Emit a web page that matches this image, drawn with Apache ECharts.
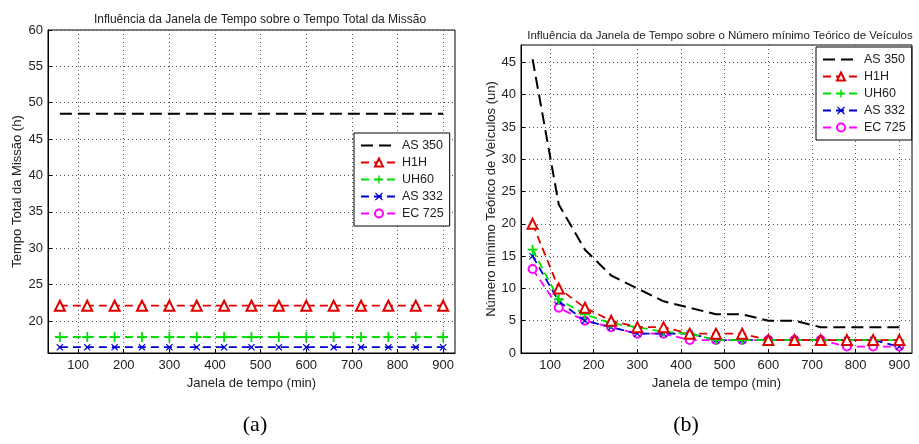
<!DOCTYPE html>
<html>
<head>
<meta charset="utf-8">
<script src="https://cdn.jsdelivr.net/npm/echarts@6/dist/echarts.min.js"></script>
<style>
  html, body { margin: 0; padding: 0; background: #fff; }
  #chart { width: 919px; height: 444px; }
</style>
</head>
<body>
<div id="chart"></div>
<script>
// janela de tempo (min)
const janela = [60, 120, 180, 240, 300, 360, 420, 480, 540, 600, 660, 720, 780, 840, 900];
const xTicks = [100, 200, 300, 400, 500, 600, 700, 800, 900];
const yTicksA = [20, 25, 30, 35, 40, 45, 50, 55, 60];
const yTicksB = [0, 5, 10, 15, 20, 25, 30, 35, 40, 45];
const nomes = ['AS 350', 'H1H', 'UH60', 'AS 332', 'EC 725'];

// (a) tempo total da missao (h) - EC 725 nao aparece no grafico (a)
const tempoAS350 = [48.5, 48.5, 48.5, 48.5, 48.5, 48.5, 48.5, 48.5, 48.5, 48.5, 48.5, 48.5, 48.5, 48.5, 48.5];
const tempoH1H = [22.1, 22.1, 22.1, 22.1, 22.1, 22.1, 22.1, 22.1, 22.1, 22.1, 22.1, 22.1, 22.1, 22.1, 22.1];
const tempoUH60 = [17.8, 17.8, 17.8, 17.8, 17.8, 17.8, 17.8, 17.8, 17.8, 17.8, 17.8, 17.8, 17.8, 17.8, 17.8];
const tempoAS332 = [16.4, 16.4, 16.4, 16.4, 16.4, 16.4, 16.4, 16.4, 16.4, 16.4, 16.4, 16.4, 16.4, 16.4, 16.4];

// (b) numero minimo teorico de veiculos (un)
const veicAS350 = [45.5, 23, 16, 12, 10, 8, 7, 6, 6, 5, 5, 4, 4, 4, 4];
const veicH1H = [20, 10, 7, 5, 4, 4, 3, 3, 3, 2, 2, 2, 2, 2, 2];
const veicUH60 = [16, 8.3, 6, 4.6, 4, 3.3, 3, 2, 2, 2, 2, 2, 2, 2, 2];
const veicAS332 = [15, 8, 5, 4, 3, 3, 3, 2, 2, 2, 2, 2, 2, 2, 1];
const veicEC725 = [13, 7, 5, 4, 3, 3, 2, 2, 2, 2, 2, 2, 1, 1, 1];

const fonte = 'Liberation Sans, Arial, sans-serif';
const corTexto = '#222';

function pares(ys) {
    return janela.map(function (x, i) { return [x, ys[i]]; });
}

// estilos das cinco curvas (iguais nos dois graficos)
const estilos = [
    { color: '#000', symbol: 'none', symbolSize: 0, border: 0, dash: [12, 6], width: 2, z: 5 },
    { color: '#e00000', symbol: 'emptyTriangle', symbolSize: 10, border: 1.5, dash: [8, 5], width: 1.8, z: 4 },
    { color: '#00e000', symbol: 'path://M4.1,0h1.8v4.1h4.1v1.8h-4.1v4.1h-1.8v-4.1h-4.1v-1.8h4.1z', symbolSize: 10, border: 0, dash: [8, 5], width: 1.8, z: 3 },
    { color: '#0000d0', symbol: 'path://M1,0L5,3.6L9,0L10,1L6.4,5L10,9L9,10L5,6.4L1,10L0,9L3.6,5L0,1z', symbolSize: 7, border: 0, dash: [8, 5], width: 1.8, z: 2 },
    { color: '#ff00ff', symbol: 'emptyCircle', symbolSize: 8, border: 1.5, dash: [8, 5], width: 1.8, z: 1 }
];

function series(dados, eixo) {
    return dados.map(function (ys, i) {
        const e = estilos[i];
        return {
            name: nomes[i],
            type: 'line',
            xAxisIndex: eixo,
            yAxisIndex: eixo,
            data: pares(ys),
            symbol: e.symbol,
            symbolSize: e.symbolSize,
            showSymbol: e.symbol !== 'none',
            z: e.z,
            lineStyle: { color: e.color, width: e.width, type: e.dash },
            itemStyle: { color: e.color, borderColor: e.color, borderWidth: e.border },
            emphasis: { disabled: true },
            animation: false
        };
    });
}

function eixoX(grid, min, max) {
    return {
        type: 'value', gridIndex: grid, min: min, max: max,
        name: 'Janela de tempo (min)', nameLocation: 'middle', nameGap: 21,
        nameTextStyle: { fontFamily: fonte, fontSize: 13, color: corTexto },
        axisLine: { show: true, onZero: false, lineStyle: { color: '#000', width: 1 } },
        axisTick: { show: true, inside: true, length: 4, customValues: xTicks, lineStyle: { color: '#000' } },
        axisLabel: { customValues: xTicks, fontFamily: fonte, fontSize: 13, color: corTexto, margin: 6 },
        splitLine: { show: true, lineStyle: { color: '#555', type: [1, 3], width: 1 } }
    };
}

function eixoY(grid, min, max, ticks, nome, gap) {
    return {
        type: 'value', gridIndex: grid, min: min, max: max,
        name: nome, nameLocation: 'middle', nameGap: gap,
        nameTextStyle: { fontFamily: fonte, fontSize: 13, color: corTexto },
        axisLine: { show: true, lineStyle: { color: '#000', width: 1 } },
        axisTick: { show: true, inside: true, length: 4, customValues: ticks, lineStyle: { color: '#000' } },
        axisLabel: { customValues: ticks, fontFamily: fonte, fontSize: 13, color: corTexto, margin: 5 },
        splitLine: { show: true, lineStyle: { color: '#555', type: [1, 3], width: 1 } }
    };
}

function legenda(left, top) {
    return {
        data: nomes.map(function (n, i) {
            // AS 350 sem marcador: so a linha tracejada
            return i === 0 ? { name: n, itemStyle: { color: 'rgba(0,0,0,0)', borderColor: 'rgba(0,0,0,0)', opacity: 0 } } : { name: n };
        }),
        orient: 'vertical', left: left, top: top,
        itemWidth: 36, itemHeight: 10, itemGap: 4, itemTextGap: 4,
        padding: [6, 6, 6, 6],
        borderColor: '#000', borderWidth: 1, borderRadius: 0, backgroundColor: '#fff',
        textStyle: { fontFamily: fonte, fontSize: 12.5, color: corTexto },
        selectedMode: false
    };
}

const chart = echarts.init(document.getElementById('chart'), null, { renderer: 'canvas' });
const serieA = series([tempoAS350, tempoH1H, tempoUH60, tempoAS332], 0);
const serieB = series([veicAS350, veicH1H, veicUH60, veicAS332, veicEC725], 1);
const option = {
    backgroundColor: '#fff',
    animation: false,
    title: [
        { text: 'Influência da Janela de Tempo sobre o Tempo Total da Missão', left: 255, top: 9, textAlign: 'center',
          textStyle: { fontFamily: fonte, fontSize: 12, fontWeight: 'normal', color: corTexto } },
        { text: 'Influência da Janela de Tempo sobre o Número mínimo Teórico de Veículos', left: 715, top: 25, textAlign: 'center',
          textStyle: { fontFamily: fonte, fontSize: 11.5, fontWeight: 'normal', color: corTexto } },
        { text: '(a)', left: 250, top: 409, textAlign: 'center',
          textStyle: { fontFamily: 'Liberation Serif, Times New Roman, serif', fontSize: 22, fontWeight: 'normal', color: '#000' } },
        { text: '(b)', left: 681, top: 409, textAlign: 'center',
          textStyle: { fontFamily: 'Liberation Serif, Times New Roman, serif', fontSize: 22, fontWeight: 'normal', color: '#000' } }
    ],
    grid: [
        { left: 48, right: 464, top: 30, bottom: 91, show: true, borderColor: '#000', borderWidth: 1, backgroundColor: 'transparent' },
        { left: 521, right: 7, top: 45, bottom: 91, show: true, borderColor: '#000', borderWidth: 1, backgroundColor: 'transparent' }
    ],
    legend: [legenda(354, 133), legenda(816, 47)],
    xAxis: [eixoX(0, 34, 926), eixoX(1, 33.5, 929)],
    yAxis: [
        eixoY(0, 15.6, 60, yTicksA, 'Tempo Total da Missão (h)', 24),
        eixoY(1, 0, 47.7, yTicksB, 'Número mínimo Teórico de Veículos (un)', 20)
    ],
    series: serieA.concat(serieB)
};
chart.setOption(option);
</script>
</body>
</html>
